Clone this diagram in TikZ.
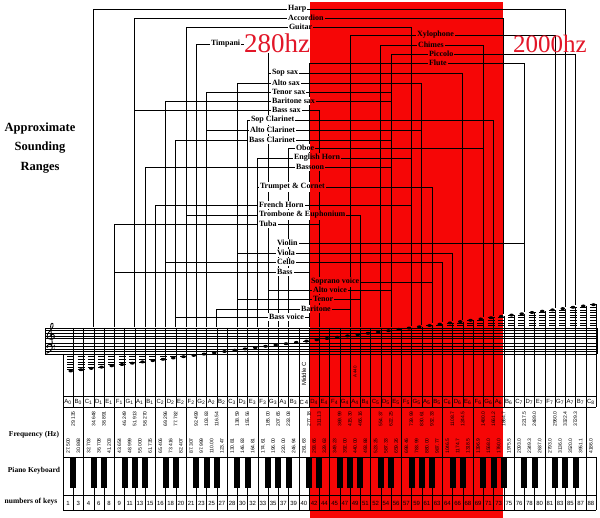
\documentclass[tikz,border=0pt]{standalone}
\usepackage{fontspec}
\setmainfont{Liberation Serif}
\setsansfont{Liberation Sans}
\usetikzlibrary{backgrounds}
\pgfdeclarelayer{lines}
\pgfdeclarelayer{boxes}
\pgfsetlayers{background,lines,boxes,main}
\definecolor{rangered}{RGB}{246,6,6}
\definecolor{hzred}{RGB}{226,22,40}
\tikzset{>=latex}
\tikzset{
    inst/.style={font=\bfseries\fontsize{8}{9}\selectfont, inner sep=0.8pt, anchor=west},
    rangeline/.style={black, line width=0.7pt},
    title/.style={font=\bfseries\fontsize{12.5}{13}\selectfont},
    sidelabel/.style={font=\bfseries\fontsize{7.5}{8}\selectfont},
    hzlabel/.style={text=hzred, inner sep=0pt},
    tabtext/.style={font=\sffamily\fontsize{6}{6}\selectfont, inner sep=0pt},
    freqtext/.style={font=\sffamily\fontsize{5}{5}\selectfont, inner sep=0pt, rotate=90}
}
\newcommand\labelbox[1]{%
    \begin{pgfonlayer}{boxes}
        \fill[white] (#1.south west) rectangle (#1.north east);
        \begin{scope}
            \clip (red-nw) rectangle (red-se);
            \fill[rangered] (#1.south west) rectangle (#1.north east);
        \end{scope}
    \end{pgfonlayer}}

\begin{document}
\begin{tikzpicture}[x=1pt, y=-1pt, line width=0.6pt]
    \useasboundingbox (0,0) rectangle (600,518);

    \coordinate (red-nw) at (310,2);
    \coordinate (red-se) at (503,518);
    \begin{scope}[on background layer]
        \fill[rangered] (red-nw) rectangle (red-se);
    \end{scope}

    \node[title] (approx) at (40,128) {Approximate};
    \node[title] (sounding) at (40,148) {Sounding};
    \node[title] (ranges) at (40,168) {Ranges};

    
    \foreach \nm/\txt/\lx/\ly/\lo/\hi in {
        harp/Harp/287/9/3/49,
        accordion/Accordion/287/18/7/43,
        guitar/Guitar/288/27/12/34,
        timpani/Timpani/210/44/13/20,
        xylophone/Xylophone/416/35/28/48,
        chimes/Chimes/417/45/31/41,
        piccolo/Piccolo/428/54/32/50,
        flute/Flute/428/63/24/45,
        sopsax/Sop sax/271/73/20/39,
        altosax/Alto sax/271/83/17/35,
        tenorsax/Tenor sax/271/92/14/32,
        barisax/Baritone sax/271/101/10/32,
        basssax/Bass sax/271/110/7/25,
        sopclar/Sop Clarinet/250/120/18/42,
        altoclar/Alto Clarinet/249/130/14/35,
        bassclar/Bass Clarinet/248/140/11/32,
        oboe/Oboe/295/148/22/41,
        enghorn/English Horn/293/158/19/34,
        bassoon/Bassoon/295/167/8/32,
        trumpet/Trumpet \& Cornet/259/187/19/36,
        frhorn/French Horn/258/205/9/34,
        trombone/Trombone \& Euphonium/258/215/12/29,
        tuba/Tuba/258/224/5/25,
        violin/Violin/276/243/21/45,
        viola/Viola/276/253/17/38,
        cello/Cello/276/262/10/37,
        bass/Bass/276/272/5/24,
        sopvoice/Soprano voice/310/282/24/36,
        altovoice/Alto voice/312/290/20/32,
        tenor/Tenor/312/299/17/29,
        baritone/Baritone/300/309/15/28,
        bassvoice/Bass voice/268/317/11/24}
    {
        \node[inst] (\nm) at (\lx,\ly) {\txt};
        \labelbox{\nm}
        \pgfmathsetmacro\ylo{min(327,369-1.3*(\lo-1))}
        \pgfmathsetmacro\yhi{min(327,369-1.3*(\hi-1))}
        \coordinate (\nm-lo) at ({63+10.25*\lo},\ly);
        \coordinate (\nm-hi) at ({63+10.25*\hi},\ly);
        \coordinate (\nm-lo-end) at ({63+10.25*\lo},\ylo);
        \coordinate (\nm-hi-end) at ({63+10.25*\hi},\yhi);
        \begin{pgfonlayer}{lines}
            \draw[rangeline] (\nm-lo-end) -- (\nm-lo) -- (\nm.west);
            \draw[rangeline] (\nm.east) -- (\nm-hi) -- (\nm-hi-end);
        \end{pgfonlayer}
    }

    \node[hzlabel, font=\fontsize{27}{27}\selectfont] (hz-low) at (277,43) {280hz};
    \labelbox{hz-low}
    \node[hzlabel, font=\fontsize{25}{25}\selectfont] (hz-high) at (550,44) {2000hz};

    
    \foreach \l in {13,15,17,19,21,25,27,29,31,33}
    {
        \draw (45,{371-1.3*\l}) -- (597,{371-1.3*\l});
    }
    \draw (45,{371-1.3*33}) -- (45,{371-1.3*13});
    \draw (597,{371-1.3*33}) -- (597,{371-1.3*13});

    \begin{scope}[shift={(51,334)}, line width=0.8pt]
        \draw (-1.2,10.5) .. controls (0.2,12) and (1.8,10.5) .. (1.2,8.5)
            -- (-0.4,-7.5) .. controls (-0.6,-11) and (2.6,-12.5) .. (2.1,-8)
            .. controls (1.7,-4.5) and (-4,-2) .. (-4,2.5)
            .. controls (-4,6) and (3.6,6.5) .. (3.6,2.5)
            .. controls (3.6,-0.5) and (-1.4,-0.5) .. (-1,2.5);
        \fill (-1.3,10) circle [radius=1.1pt];
    \end{scope}
    \begin{scope}[shift={(49,346.5)}, line width=0.9pt]
        \draw (-2,0) .. controls (-2,-2.6) and (3,-3) .. (3.3,0.3)
            .. controls (3.5,3) and (1,5.5) .. (-2.5,6.8);
        \fill (-1.8,0.2) circle [radius=1.2pt];
        \fill (5.2,-1.2) circle [radius=0.6pt];
        \fill (5.2,1.6) circle [radius=0.6pt];
    \end{scope}

    
    \foreach \i in {0,...,51}
    {
        \pgfmathsetmacro\ny{371-1.3*\i}
        \pgfmathsetmacro\sx{63+10.25*(\i+1)}
        \fill ({\sx-2.5},\ny) ellipse [x radius=2.3pt, y radius=1.5pt];
        \foreach \l in {1,3,...,11}
        {
            \ifnum\l<\i\else
                \draw[line width=0.4pt] ({\sx-6},{371-1.3*\l}) -- ({\sx+1},{371-1.3*\l});
            \fi
        }
        \foreach \l in {35,37,...,51}
        {
            \ifnum\l>\i\else
                \draw[line width=0.4pt] ({\sx-6},{371-1.3*\l}) -- ({\sx+1},{371-1.3*\l});
            \fi
        }
        \ifnum\i=23
            \draw[line width=0.4pt] ({\sx-6},\ny) -- ({\sx+1},\ny);
        \fi
        \draw (\sx,{min(328,\ny)}) -- (\sx,407);
        \draw (\sx,457) -- (\sx,510);
    }

    
    \draw (63,354) -- (63,510);
    \foreach \y in {396,407,457,495,510}
    {
        \draw (63,\y) -- (596,\y);
    }
    \foreach \k in {2,5,9,12,16,19,23,26,30,33,37,40,44,47,51}
    {
        \draw (63+10.25*\k,407) -- (63+10.25*\k,457);
    }

    \foreach \nl/\oct/\kn/\fr [count=\i from 0] in {
        A/0/1/27.500, B/0/3/30.868, C/1/4/32.703, D/1/6/36.708, E/1/8/41.203,
        F/1/9/43.654, G/1/11/48.999, A/1/13/55.000, B/1/15/61.735, C/2/16/65.406,
        D/2/18/73.416, E/2/20/82.407, F/2/21/87.307, G/2/23/97.999, A/2/25/110.00,
        B/2/27/123.47, C/3/28/130.81, D/3/30/146.83, E/3/32/164.81, F/3/33/174.61,
        G/3/35/196.00, A/3/37/220.00, B/3/39/246.94, C/4/40/261.63, D/4/42/293.66,
        E/4/44/329.63, F/4/45/349.23, G/4/47/392.00, A/4/49/440.00, B/4/51/493.88,
        C/5/52/523.25, D/5/54/587.33, E/5/56/659.26, F/5/57/698.46, G/5/59/783.99,
        A/5/61/880.00, B/5/63/987.77, C/6/64/1046.5, D/6/66/1174.7, E/6/68/1318.5,
        F/6/69/1396.9, G/6/71/1568.0, A/6/73/1760.0, B/6/75/1975.5, C/7/76/2093.0,
        D/7/78/2349.3, E/7/80/2637.0, F/7/81/2793.0, G/7/83/3136.0, A/7/85/3520.0,
        B/7/87/3951.1, C/8/88/4186.0}
    {
        \pgfmathsetmacro\cx{63+10.25*(\i+0.5)}
        \node[tabtext] (name-\i) at (\cx,402) {\ifnum\i=23 C\,4\else\nl\textsubscript{\oct}\fi};
        \node[freqtext] (freq-\i) at (\cx,446) {\fr};
        \node[tabtext] (key-\i) at (\cx,503) {\kn};
    }

    \foreach \k/\fr in {
        1/29.135, 3/34.648, 4/38.891, 6/46.249, 7/51.913, 8/58.270,
        10/69.296, 11/77.782, 13/92.499, 14/103.83, 15/116.54,
        17/138.59, 18/155.56, 20/185.00, 21/207.65, 22/233.08,
        24/277.18, 25/311.13, 27/369.99, 28/415.30, 29/466.16,
        31/554.37, 32/622.25, 34/739.99, 35/830.61, 36/932.33,
        38/1108.7, 39/1244.5, 41/1480.0, 42/1661.2, 43/1864.7,
        45/2217.5, 46/2489.0, 48/2960.0, 49/3322.4, 50/3729.3}
    {
        \fill ({63+10.25*\k-3},457) rectangle ({63+10.25*\k+3},488);
        \node[freqtext] (bfreq-\k) at ({63+10.25*\k},419) {\fr};
    }

    \node[freqtext, font=\sffamily\fontsize{6}{6}\selectfont] (midc) at (304,374) {Middle C};
    \node[freqtext, font=\sffamily\fontsize{4.5}{5}\selectfont] (a440) at (355,372) {A 440};

    \node[sidelabel] (freqlabel) at (34,435) {Frequency (Hz)};
    \node[sidelabel] (pianolabel) at (34,471) {Piano Keyboard};
    \node[sidelabel] (keyslabel) at (31,502) {numbers of keys};

\end{tikzpicture}
\end{document}
